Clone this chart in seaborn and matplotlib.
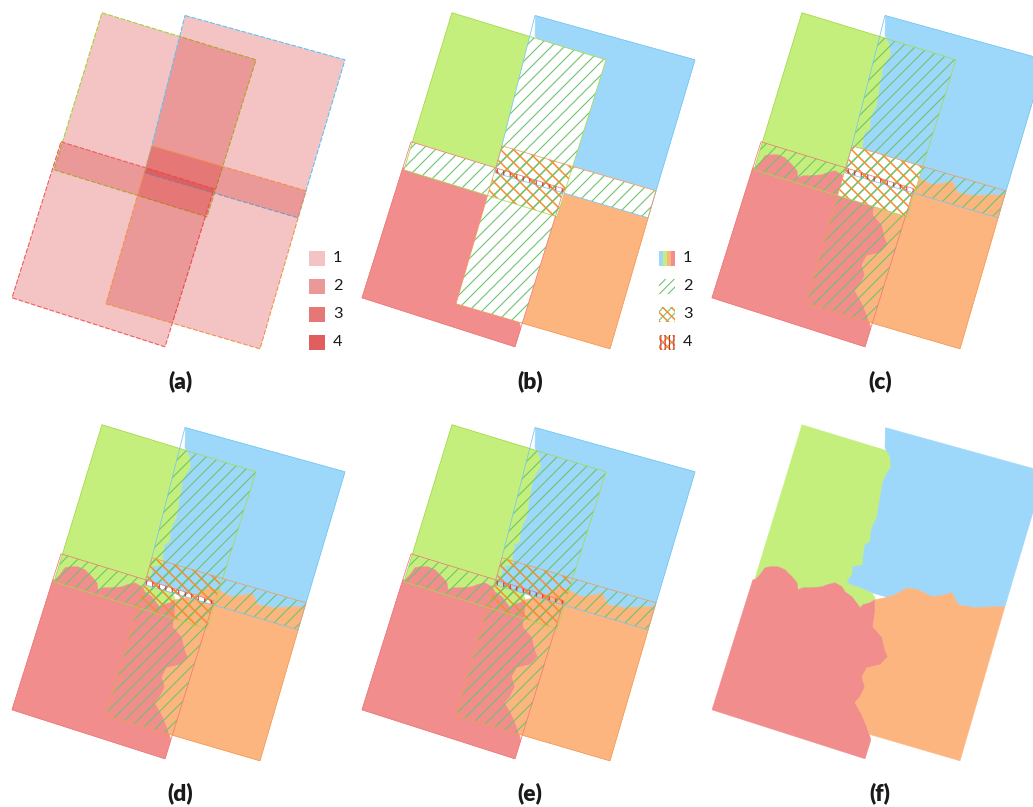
import itertools
import numpy as np
import matplotlib
matplotlib.use("Agg")
import matplotlib.pyplot as plt
from matplotlib.patches import Polygon, Rectangle
import seaborn as sns

# Footprints of the four overlapping image tiles (corner positions in panel pixels, y down)
green_tile = [(102, 13), (256, 60), (207, 217), (54, 170)]
blue_tile = [(185, 15.7), (345, 60), (298, 218), (145, 173)]
red_tile = [(61, 142), (214, 189), (165, 347), (12, 298)]
orange_tile = [(152, 146), (306, 191), (260, 349), (106, 304)]

# Seamlines splitting the overlaps between neighbouring tiles
seam_junction = (175, 188)
seam_green_blue = [(188, -100), (185, 36), (190, 45), (191, 56), (187, 61), (183, 70),
                   (180, 86), (177, 106), (173, 113), (171, 120), (170, 130), (165, 133),
                   (163, 145), (163, 153), (153, 155), (152, 163), (147, 170), (152, 173),
                   (162, 176), (172, 181), (175, 186)]
seam_red_green = [(-100, 170), (55, 168), (60, 163), (65, 156), (70, 155), (78, 155),
                  (85, 158), (92, 165), (97, 171), (98, 178), (103, 176), (112, 176),
                  (122, 175), (127, 173), (135, 171), (142, 175), (145, 180), (152, 185),
                  (158, 193), (160, 196), (163, 193), (170, 191)]
seam_blue_orange = [(185, 186), (195, 183), (208, 176), (218, 178), (232, 185), (245, 183),
                    (252, 181), (258, 193), (275, 196), (292, 195), (305, 195), (450, 200)]
seam_red_orange = [(175, 201), (173, 215), (182, 225), (185, 238), (188, 245), (180, 253),
                   (167, 256), (162, 265), (165, 275), (160, 285), (155, 291), (162, 303),
                   (167, 315), (170, 325), (172, 335), (176, 450)]

panel_labels = ["(a)", "(b)", "(c)", "(d)", "(e)", "(f)"]
legend_labels = ["1", "2", "3", "4"]

# Colours
tile_fill = sns.color_palette(["#c5ef7d", "#9dd8fb", "#f18d8d", "#fdb57f"])
tile_edge = sns.color_palette(["#a6d94e", "#72c6f2", "#f07878", "#f59a55"])
dash_edge = sns.color_palette(["#a2d233", "#5cc3f2", "#f05a5a", "#f2904a"])
count_red = (0.83, 0.09, 0.09, 0.25)
hatch_green = "#6cc46a"
hatch_orange = "#f58d2a"
hatch_red = "#e8242a"

sns.set_theme(style="white")
plt.rcParams["font.family"] = ["Lato", "DejaVu Sans"]

DPI = 78
fig = plt.figure(figsize=(1033.2 / DPI, 807.2 / DPI), dpi=DPI)
ax = fig.add_axes([0, 0, 1, 1])
ax.set_xlim(0, 1033.2)
ax.set_ylim(807.2, 0)
ax.axis("off")

tiles = [np.asarray(t, float) for t in (green_tile, blue_tile, red_tile, orange_tile)]


def clip_convex(subject, clipper):
    """Sutherland-Hodgman clipping of a polygon by a convex polygon."""
    out = [np.asarray(p, float) for p in subject]
    clp = np.asarray(clipper, float)
    x, y = clp[:, 0], clp[:, 1]
    orient = np.sign(np.sum(x * np.roll(y, -1) - np.roll(x, -1) * y))

    def side(a, b, p):
        return orient * ((b[0] - a[0]) * (p[1] - a[1]) - (b[1] - a[1]) * (p[0] - a[0]))

    for i in range(len(clp)):
        a, b = clp[i], clp[(i + 1) % len(clp)]
        inp, out = out, []
        if not inp:
            break
        for j in range(len(inp)):
            cur, prev = inp[j], inp[j - 1]
            sc, sp = side(a, b, cur), side(a, b, prev)
            if sc >= 0:
                if sp < 0:
                    out.append(prev + (cur - prev) * sp / (sp - sc))
                out.append(cur)
            elif sp >= 0:
                out.append(prev + (cur - prev) * sp / (sp - sc))
    return np.array(out)


# Territory of each tile in the final mosaic, bounded by the seamlines
J = [seam_junction]
territories = [
    [(-100, -100)] + seam_green_blue + J + seam_red_green[::-1],
    [(450, -100)] + seam_blue_orange[::-1] + J + seam_green_blue[::-1],
    J + seam_red_orange + [(-100, 450)] + seam_red_green,
    J + seam_blue_orange + [(450, 450)] + seam_red_orange[::-1],
]
mosaic = [clip_convex(territories[k], tiles[k]) for k in range(4)]


def overlap(idx):
    poly = tiles[idx[0]]
    for k in idx[1:]:
        poly = clip_convex(poly, tiles[k])
    return poly


overlaps = {d: [overlap(c) for c in itertools.combinations(range(4), d)] for d in (2, 3, 4)}
overlaps = {d: [p for p in v if len(p) >= 3] for d, v in overlaps.items()}


def hatch_patch(xy, color, pattern, lw):
    plt.rcParams["hatch.linewidth"] = lw
    p = Polygon(xy, closed=True, facecolor="none", edgecolor=color, linewidth=0,
                hatch=pattern)
    if hasattr(p, "set_hatch_linewidth"):
        p.set_hatch_linewidth(lw)
    ax.add_patch(p)


def draw_counts(off):
    for k in range(4):
        ax.add_patch(Polygon(tiles[k] + off, closed=True, facecolor=count_red,
                             edgecolor=dash_edge[k], linewidth=1.0,
                             linestyle=(0, (4.5, 1.5))))


def draw_mosaic(off, white_depth, hatched):
    for k in range(4):
        ax.add_patch(Polygon(mosaic[k] + off, closed=True, facecolor=tile_fill[k],
                             edgecolor=tile_fill[k], linewidth=0.5))
    if white_depth:
        for poly in overlaps[white_depth]:
            ax.add_patch(Polygon(poly + off, closed=True, facecolor="white",
                                 edgecolor="none"))
    if hatched:
        for poly in overlaps[2]:
            hatch_patch(poly + off, hatch_green, "//", 1.0)
        for poly in overlaps[3]:
            hatch_patch(poly + off, hatch_orange, "\\\\", 1.4)
        for poly in overlaps[4]:
            hatch_patch(poly + off, hatch_red, "||", 1.0)
        for k in range(4):
            ax.add_patch(Polygon(tiles[k] + off, closed=True, fill=False,
                                 edgecolor=tile_edge[k], linewidth=0.7))


col_step, row_step = 350, 412
stages = [None, 2, 3, 4, 0, 0]
for i, label in enumerate(panel_labels):
    off = np.array([(i % 3) * col_step, (i // 3) * row_step], float)
    if i == 0:
        draw_counts(off)
    else:
        draw_mosaic(off, stages[i], hatched=(i < 5))
    ax.text(off[0] + 180, off[1] + 381, label, ha="center", va="center",
            fontsize=21, fontweight="heavy", color="#1a1a1a")

# Legend of panel (a): number of overlapping tiles
for n, lab in enumerate(legend_labels):
    y0 = 251 + n * 28
    for _ in range(n + 1):
        ax.add_patch(Rectangle((309, y0), 16, 15, facecolor=count_red, edgecolor="none"))
    ax.text(333, y0 + 7.5, lab, ha="left", va="center", fontsize=15, color="#1a1a1a")

# Legend of panel (b): fill / hatch styles
lx = 659
for n, lab in enumerate(legend_labels):
    y0 = 251 + n * 28
    if n == 0:
        for s, k in enumerate([1, 0, 3, 2]):
            ax.add_patch(Rectangle((lx + s * 4, y0), 4, 15, facecolor=tile_fill[k],
                                   edgecolor="none"))
    else:
        sq = np.array([(lx, y0), (lx + 16, y0), (lx + 16, y0 + 15), (lx, y0 + 15)], float)
        hatch_patch(sq, hatch_green, "///", 1.0)
        if n >= 2:
            hatch_patch(sq, hatch_orange, "\\\\\\", 1.4)
        if n == 3:
            hatch_patch(sq, hatch_red, "|||", 1.0)
    ax.text(lx + 24, y0 + 7.5, lab, ha="left", va="center", fontsize=15, color="#1a1a1a")

fig.savefig("out.png", dpi=DPI, facecolor="white")
